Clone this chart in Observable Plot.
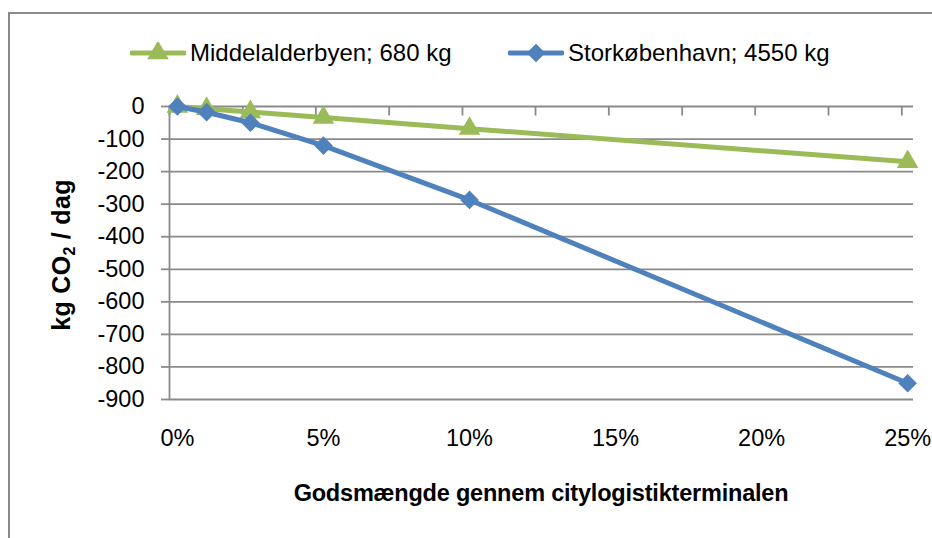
<!DOCTYPE html>
<html>
<head>
<meta charset="utf-8">
<script src="https://cdn.jsdelivr.net/npm/d3@7"></script>
<script src="https://cdn.jsdelivr.net/npm/@observablehq/plot@0.6"></script>
<style>
  html, body { margin: 0; padding: 0; background: #fff; }
  #wrap { position: relative; width: 932px; height: 538px; overflow: hidden; font-family: "Liberation Sans", Arial, sans-serif; color: #000; }
  #border { position: absolute; left: 8px; top: 12px; width: 1000px; height: 600px; border-top: 2px solid #8a8a8a; border-left: 2px solid #8a8a8a; }
  #chart { position: absolute; left: 0; top: 0; }
  .legend-item { position: absolute; top: 53px; transform: translateY(-50%); display: flex; align-items: center; font-size: 24px; white-space: nowrap; }
  .legend-item svg { display: block; margin-right: 4px; }
  #ylabel { position: absolute; left: 63px; top: 255px; transform: translate(-50%, -50%) rotate(-90deg); font-weight: bold; font-size: 25px; white-space: nowrap; letter-spacing: 0.3px; }
  #ylabel sub { font-size: 16px; vertical-align: -5px; }
  #xlabel { position: absolute; left: 541px; top: 493px; transform: translate(-50%, -50%); font-weight: bold; font-size: 23.5px; white-space: nowrap; letter-spacing: -0.2px; }
</style>
</head>
<body>
<div id="wrap">
  <div id="border"></div>
  <div id="chart"></div>
  <div id="legend"></div>
  <div id="ylabel">kg CO<sub>2</sub> / dag</div>
  <div id="xlabel">Godsmængde gennem citylogistikterminalen</div>
</div>
<script>
// ---- Data ----
const percents = [0, 1, 2.5, 5, 10, 25];                    // x (%)
const middelalderbyen = [0, -6.8, -17, -34, -68, -170];      // kg CO2 / dag
const storkobenhavn = [0, -17.5, -50, -120, -287, -850];     // kg CO2 / dag
const seriesNames = ["Middelalderbyen; 680 kg", "Storkøbenhavn; 4550 kg"];
const seriesColors = ["#9BBB59", "#4F81BD"];
const seriesSymbols = ["triangle", "diamond2"];
const yTicks = [0, -100, -200, -300, -400, -500, -600, -700, -800, -900];
const xTickLabels = [0, 5, 10, 15, 20, 25];
const xTickMarks = [-0.27, 2.24, 4.74, 7.25, 9.76, 12.26, 14.77, 17.28, 19.78, 22.29, 24.8];
const xDomain = [-0.27, 25.2];
const yDomain = [-900, 0];

const gridColor = "#8a8a8a";
const markerR = {triangle: 8, diamond2: 8.4};

const rows = [];
percents.forEach((p, i) => {
  rows.push({x: p, y: middelalderbyen[i], s: seriesNames[0]});
  rows.push({x: p, y: storkobenhavn[i], s: seriesNames[1]});
});
const seriesRows = seriesNames.map(name => rows.filter(r => r.s === name));

const tickSymbol = {
  draw(context, size) {
    const l = Math.sqrt(size / Math.PI);
    context.moveTo(0, 0);
    context.lineTo(0, l);
  }
};

const marks = [
  Plot.ruleY(yTicks, {stroke: gridColor, strokeWidth: 1.8}),
  Plot.ruleX([xDomain[0]], {stroke: gridColor, strokeWidth: 1.8}),
  Plot.dot(xTickMarks, {x: d => d, y: 0, symbol: tickSymbol, r: 9, stroke: gridColor, strokeWidth: 1.8, fill: "none"}),
  Plot.axisY(yTicks, {tickSize: 8, tickPadding: 17, stroke: gridColor, strokeWidth: 1.8, fill: "black", fontSize: 23.5, tickFormat: d => String(d), label: null}),
  Plot.axisX(xTickLabels, {anchor: "bottom", tickSize: 0, tickPadding: 30, fill: "black", fontSize: 23.5, tickFormat: d => d + "%", label: null})
];
seriesNames.forEach((name, i) => {
  marks.push(Plot.line(seriesRows[i], {x: "x", y: "y", stroke: seriesColors[i], strokeWidth: 5, strokeLinejoin: "round", strokeLinecap: "round"}));
  marks.push(Plot.dot(seriesRows[i], {x: "x", y: "y", symbol: seriesSymbols[i], r: markerR[seriesSymbols[i]], fill: seriesColors[i], stroke: "none"}));
});

const chart = Plot.plot({
  width: 932,
  height: 538,
  marginTop: 106,
  marginBottom: 139,
  marginLeft: 169,
  marginRight: 19,
  x: {type: "linear", domain: xDomain},
  y: {type: "linear", domain: yDomain},
  style: {fontFamily: "'Liberation Sans', Arial, sans-serif", fontSize: "23px", color: "black", background: "transparent", overflow: "visible"},
  marks
});
document.getElementById("chart").appendChild(chart);

// ---- Legend ----
const legendX = [130, 508];
const legend = document.getElementById("legend");
seriesNames.forEach((name, i) => {
  const item = document.createElement("div");
  item.className = "legend-item";
  item.style.left = legendX[i] + "px";
  const sw = d3.create("svg").attr("width", 56).attr("height", 22);
  sw.append("line").attr("x1", 2).attr("x2", 54).attr("y1", 11).attr("y2", 11)
    .attr("stroke", seriesColors[i]).attr("stroke-width", 5).attr("stroke-linecap", "round");
  const sym = seriesSymbols[i] === "triangle" ? d3.symbolTriangle : d3.symbolDiamond2;
  const size = Math.PI * Math.pow(markerR[seriesSymbols[i]], 2);
  sw.append("path").attr("d", d3.symbol(sym, size)()).attr("transform", "translate(28,11)").attr("fill", seriesColors[i]);
  item.appendChild(sw.node());
  const t = document.createElement("span");
  t.textContent = name;
  item.appendChild(t);
  legend.appendChild(item);
});
</script>
</body>
</html>
